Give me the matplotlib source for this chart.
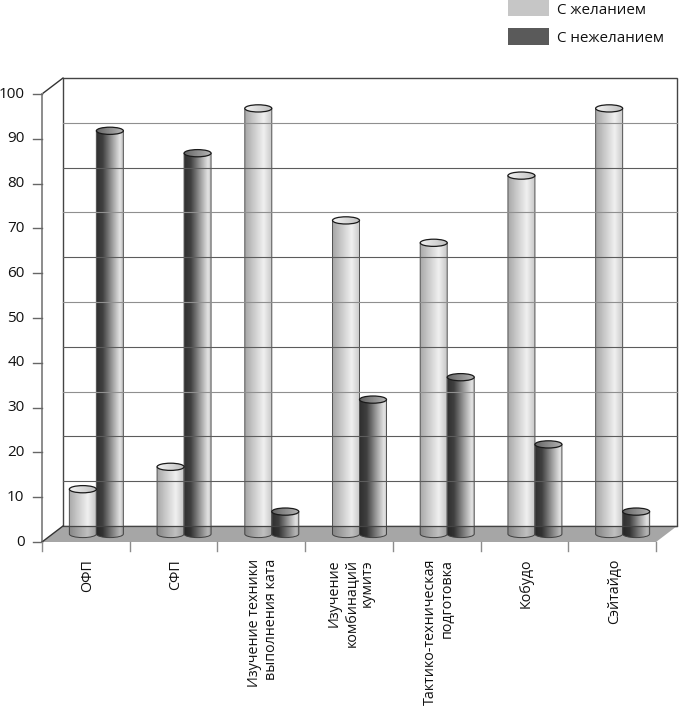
import numpy as np
import matplotlib
matplotlib.use('Agg')
import matplotlib.pyplot as plt
from matplotlib.patches import Polygon, PathPatch, Ellipse
from matplotlib.path import Path
from matplotlib.colors import LinearSegmentedColormap

categories = ['ОФП', 'СФП', 'Изучение техники\nвыполнения ката', 'Изучение\nкомбинаций\nкумитэ',
              'Тактико-техническая\nподготовка', 'Кобудо', 'Сэйтайдо']
willing = [10, 15, 95, 70, 65, 80, 95]
unwilling = [90, 85, 5, 30, 35, 20, 5]
series_names = ['С желанием', 'С нежеланием']
yticks = list(range(0, 101, 10))

plt.rcParams['font.family'] = ['Open Sans', 'DejaVu Sans']
W, H = 679, 709
fig = plt.figure(figsize=(W/100, H/100), dpi=100)
L, R, T, B = 42, 656, 94, 542
ax = fig.add_axes([L/W, 1-B/H, (R-L)/W, (B-T)/H])
ax.set_xlim(0, 7); ax.set_ylim(0, 100)
ax.axis('off')

ux = (R-L)/7      # px per category
uy = (B-T)/100    # px per value
dx, dy = 21/ux, 16/uy   # chart depth in data units
wid = 27/ux
ry = 3.6/uy

cm_l = LinearSegmentedColormap.from_list('l', [(0,'#a8a8a8'),(.3,'#c8c8c8'),(.7,'#f0f0f0'),(1,'#c8c8c8')])
cm_d = LinearSegmentedColormap.from_list('d', [(0,'#303030'),(.25,'#404040'),(.7,'#b4b4b4'),(.9,'#e4e4e4'),(1,'#c4c4c4')])
cap_l = LinearSegmentedColormap.from_list('cl', ['#f2f2f2', '#c0c0c0'])
cap_d = LinearSegmentedColormap.from_list('cd', ['#666666', '#b4b4b4'])

# back wall
ax.add_patch(Polygon([(dx,dy),(7+dx,dy),(7+dx,100+dy),(dx,100+dy)], closed=True, fc='white', ec='#444444', lw=1.0, zorder=1, clip_on=False))
ax.add_patch(Polygon([(0,0),(7,0),(7+dx,dy),(dx,dy)], closed=True, fc='#d0d0d0', ec='none', zorder=2, clip_on=False))
ax.plot([0,dx],[100,100+dy], color='#333333', lw=1, zorder=2, clip_on=False)
ax.plot([0,0],[0,100], color='#8c8c8c', lw=1.4, zorder=2, clip_on=False)

def cylinder(x0, v, cmap, cap):
    xc = x0+wid/2
    base = dy/2
    top = base+v
    k = 0.5523
    a, b = wid/2, ry
    verts = [(x0,top),(x0,base),
             (x0,base-k*b),(xc-k*a,base-b),(xc,base-b),
             (xc+k*a,base-b),(x0+wid,base-k*b),(x0+wid,base),
             (x0+wid,top),(x0,top)]
    codes = [Path.MOVETO,Path.LINETO,Path.CURVE4,Path.CURVE4,Path.CURVE4,Path.CURVE4,Path.CURVE4,Path.CURVE4,Path.LINETO,Path.CLOSEPOLY]
    im = ax.imshow(np.linspace(0,1,64)[None,:], cmap=cmap, vmin=0, vmax=1, extent=(x0,x0+wid,base-b,top), aspect='auto', zorder=3)
    body = PathPatch(Path(verts, codes), transform=ax.transData, fc='none', ec='#505050', lw=0.7, zorder=3.1, clip_on=False)
    ax.add_patch(body)
    im.set_clip_path(body)
    im2 = ax.imshow(np.linspace(0,1,64)[None,:], cmap=cap, vmin=0, vmax=1, extent=(x0,x0+wid,top-b,top+b), aspect='auto', zorder=3.2)
    e = Ellipse((xc,top), wid, 2*b, fc='none', ec='#1a1a1a', lw=0.9, zorder=3.3, clip_on=False)
    ax.add_patch(e)
    im2.set_clip_path(e)

for i,(a,b) in enumerate(zip(willing, unwilling)):
    cx = i+0.5+dx/2
    cylinder(cx-wid, a, cm_l, cap_l)
    cylinder(cx, b, cm_d, cap_d)
ax.set_xlim(0, 7); ax.set_ylim(0, 100)

# gridlines drawn over bars
for v in yticks[1:-1]:
    ax.plot([dx,7+dx],[v+dy,v+dy], color='#8f8f8f' if v in (90,70,50,30) else '#5c5c5c', lw=0.8, zorder=4, clip_on=False)

# floor overlay darkens what stands on it
ax.add_patch(Polygon([(0,0),(7,0),(7+dx,dy),(dx,dy)], closed=True, fc='black', ec='none', alpha=0.2, zorder=5, clip_on=False))
ax.plot([dx,7+dx],[dy,dy], color='#444444', lw=0.9, zorder=5, clip_on=False)
ax.plot([0,dx],[0,dy], color='#333333', lw=1, zorder=5, clip_on=False)

# ticks
for v in yticks:
    ax.plot([-9/ux,0],[v,v], color='#666666', lw=1, zorder=6, clip_on=False)
    ax.text(-17.5/ux, v, str(v), ha='right', va='center', fontsize=11, color='#111111', clip_on=False)
for i in range(8):
    ax.plot([i,i],[0,-9/uy], color='#8c8c8c', lw=1, zorder=6, clip_on=False)
for i,c in enumerate(categories):
    ax.text(i+0.5+2/ux, -17/uy, c, rotation=90, ha='center', va='top', fontsize=10.3, color='#111111',
            multialignment='right', linespacing=1.15, clip_on=False)

# legend
for y0,y1,col,name in [(0,16,'#c6c6c6',series_names[0]),(28,45,'#5a5a5a',series_names[1])]:
    fig.patches.append(plt.Rectangle((508/W,1-y1/H),41/W,(y1-y0)/H,transform=fig.transFigure,fc=col,ec='none'))
    fig.text(557/W,1-(y0+y1)/2/H-2.5/H,name,ha='left',va='center',fontsize=10.9,color='#111111')

fig.savefig('out.png', dpi=100)
